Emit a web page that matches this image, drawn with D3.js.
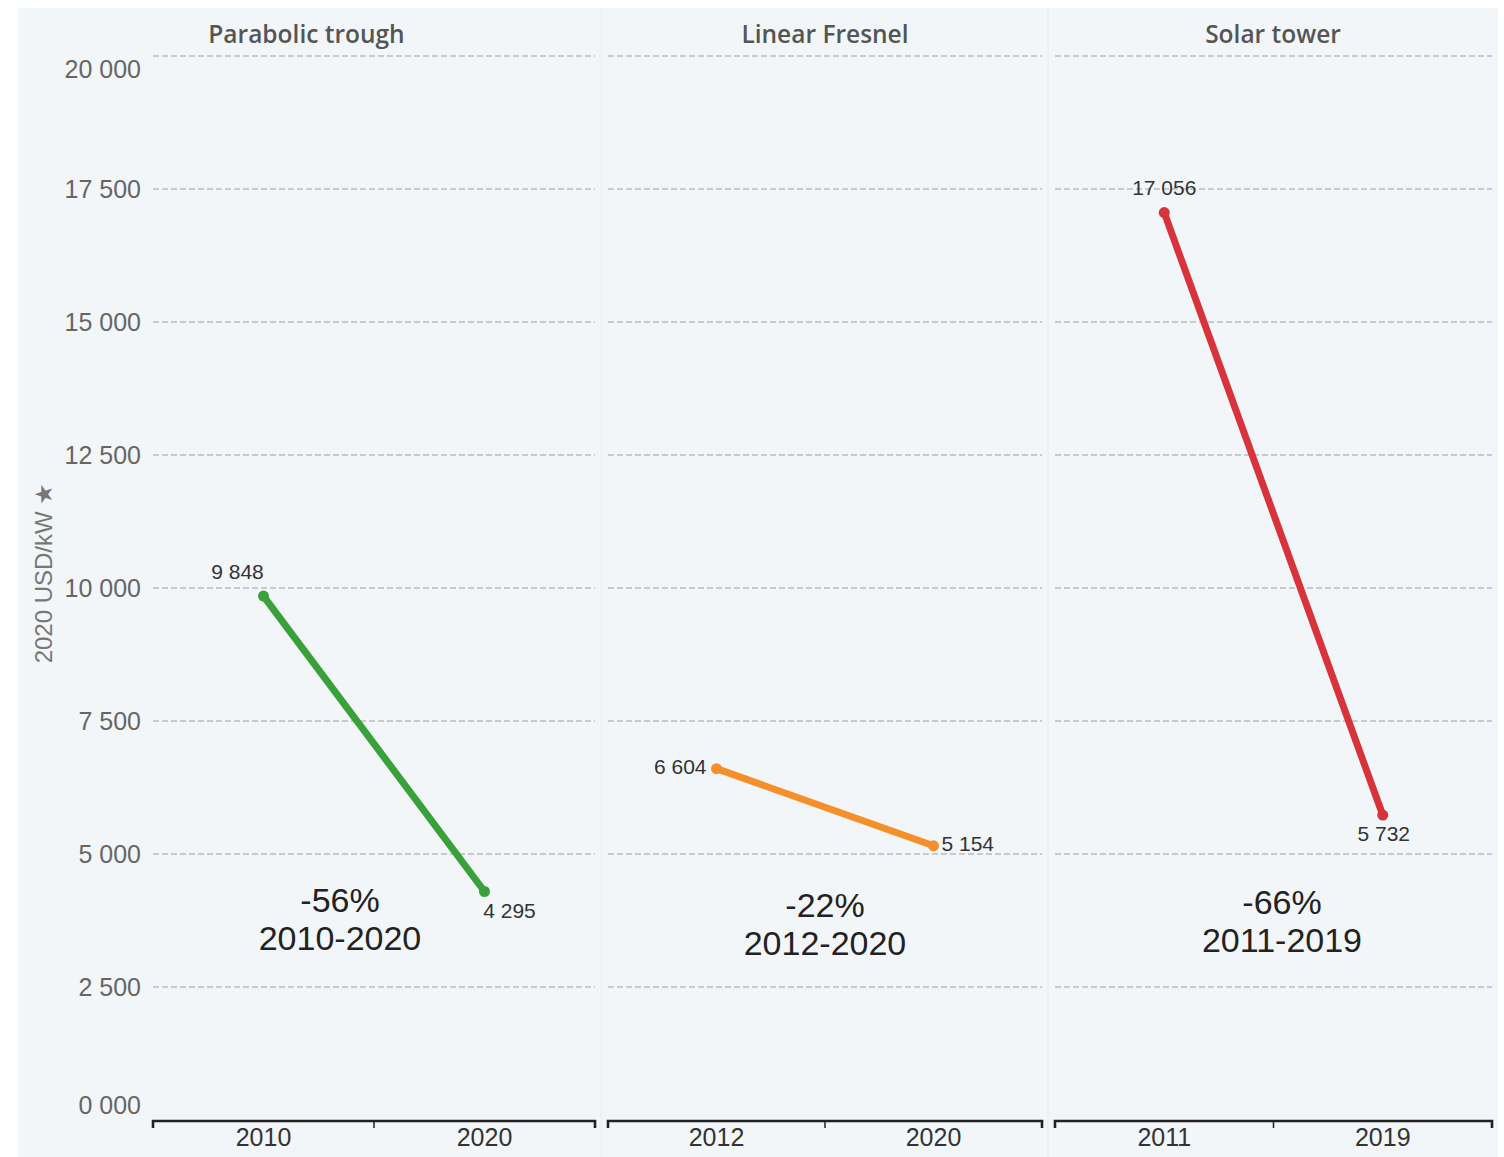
<!DOCTYPE html>
<html><head><meta charset="utf-8">
<script src="https://cdn.jsdelivr.net/npm/d3@7"></script>
<style>body{margin:0;background:#fff;} svg{display:block;}</style>
</head><body>
<svg id="c" width="1504" height="1157"></svg>
<script>
const panels = ["Parabolic trough", "Linear Fresnel", "Solar tower"];
const startYears = ["2010", "2012", "2011"];
const endYears = ["2020", "2020", "2019"];
const startValues = [9848, 6604, 17056];
const endValues = [4295, 5154, 5732];
const changeLabels = ["-56%", "-22%", "-66%"];
const periodLabels = ["2010-2020", "2012-2020", "2011-2019"];
const colors = ["#3aa13a", "#f58f2a", "#d8323a"];
const yTicks = [0, 2500, 5000, 7500, 10000, 12500, 15000, 17500, 20000];
const yTitle = "2020 USD/kW ★";

const svg = d3.select("#c");
const fmt = v => { const s = String(v).padStart(4, "0"); return s.slice(0, s.length-3) + " " + s.slice(-3); };

// background
svg.append("rect").attr("x", 18).attr("y", 8).attr("width", 1480).attr("height", 1149).attr("fill", "#f2f6f9");

const y = d3.scaleLinear().domain([0, 20000]).range([1120, 56]);
const panelX = [[153, 595], [608, 1042], [1055, 1492]];
const titleCx = [(18 + 595) / 2, 825, 1273];
const annCx = [340, 825, 1282];

// faint panel separators
[601, 1048].forEach(x => svg.append("line").attr("x1", x).attr("x2", x).attr("y1", 8).attr("y2", 1157).attr("stroke", "#edf1f4").attr("stroke-width", 2));

// y tick labels
const yl = svg.append("g");
yTicks.forEach(t => {
  let dy = 0;
  if (t === 20000) dy = 13;
  if (t === 0) dy = -15;
  yl.append("text").attr("x", 141).attr("y", y(t) + dy).attr("dy", "0.35em")
    .attr("text-anchor", "end").attr("font-family", "Liberation Sans, Arial, sans-serif")
    .attr("font-size", 25).attr("fill", "#666").text(fmt(t));
});
svg.append("text").attr("transform", "translate(52,573) rotate(-90)").attr("text-anchor", "middle")
  .attr("font-family", "Liberation Sans, Arial, sans-serif").attr("font-size", 24).attr("fill", "#777").text(yTitle);

panels.forEach((p, i) => {
  const [x0, x1] = panelX[i];
  const x = d3.scaleBand().domain([startYears[i], endYears[i]]).range([x0, x1]).padding(0);
  const g = svg.append("g");
  // gridlines
  g.selectAll("line.grid").data(yTicks.filter(t => t > 0)).join("line")
    .attr("x1", x0).attr("x2", x1).attr("y1", d => y(d)).attr("y2", d => y(d))
    .attr("stroke", "#b9bdc1").attr("stroke-width", 1.3).attr("stroke-dasharray", "6,3");
  // title
  g.append("text").attr("x", titleCx[i]).attr("y", 34).attr("dy", "0.35em").attr("text-anchor", "middle")
    .attr("font-family", "Open Sans, sans-serif").attr("font-weight", 600).attr("font-size", 24.5)
    .attr("fill", "#555").text(p);
  // x axis
  const ax = g.append("g").attr("transform", "translate(0,1121)")
    .call(d3.axisBottom(x).tickSize(0).tickPadding(7));
  ax.select(".domain").attr("d", `M${x0},7V0H${x1}V7`).attr("stroke", "#222").attr("stroke-width", 2.6).attr("fill", "none");
  ax.append("line").attr("x1", x0 + x.bandwidth()).attr("x2", x0 + x.bandwidth()).attr("y1", 0).attr("y2", 7).attr("stroke", "#222").attr("stroke-width", 1.5);
  ax.selectAll("text").attr("font-family", "Liberation Sans, Arial, sans-serif").attr("font-size", 25).attr("fill", "#333");
  // line
  const pts = [[startYears[i], startValues[i]], [endYears[i], endValues[i]]];
  const lx = d => x(d[0]) + x.bandwidth() / 2;
  g.append("path").datum(pts).attr("d", d3.line().x(lx).y(d => y(d[1])))
    .attr("stroke", colors[i]).attr("stroke-width", 7).attr("fill", "none").attr("stroke-linecap", "round");
  g.selectAll("circle").data(pts).join("circle").attr("cx", lx).attr("cy", d => y(d[1])).attr("r", 5.5).attr("fill", colors[i]);
  // value labels
  const lab = (d, dx, dy, anchor) => g.append("text").attr("x", lx(d) + dx).attr("y", y(d[1]) + dy).attr("dy", "0.35em")
    .attr("text-anchor", anchor).attr("font-family", "Liberation Sans, Arial, sans-serif").attr("font-size", 21).attr("fill", "#333").text(fmt(d[1]));
  if (i === 0) { lab(pts[0], -26, -24, "middle"); lab(pts[1], 25, 19, "middle"); }
  if (i === 1) { lab(pts[0], -10, -2, "end"); lab(pts[1], 8, -2, "start"); }
  if (i === 2) { lab(pts[0], 0, -25, "middle"); lab(pts[1], 1, 19, "middle"); }
  // annotations
  g.append("text").attr("x", annCx[i]).attr("y", [900, 905, 902][i]).attr("dy", "0.35em").attr("text-anchor", "middle")
    .attr("font-family", "Liberation Sans, Arial, sans-serif").attr("font-size", 34).attr("fill", "#222").text(changeLabels[i]);
  g.append("text").attr("x", annCx[i]).attr("y", [938, 943, 940][i]).attr("dy", "0.35em").attr("text-anchor", "middle")
    .attr("font-family", "Liberation Sans, Arial, sans-serif").attr("font-size", 34).attr("fill", "#222").text(periodLabels[i]);
});
</script>
</body></html>
